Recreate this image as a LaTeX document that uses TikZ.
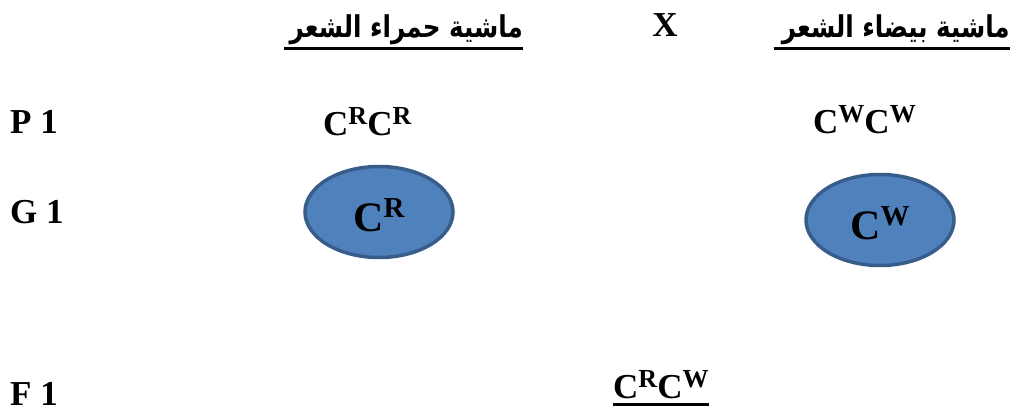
\documentclass[tikz,border=0pt]{standalone}
\usepackage{fontspec}
\setmainfont{Liberation Serif}
\newfontfamily\arabicfont[Script=Arabic]{DejaVu Sans}
\TeXXeTstate=1
\usetikzlibrary{shapes.geometric}
\definecolor{gameteblue}{RGB}{79,129,189}
\definecolor{gameteedge}{RGB}{56,93,138}
\newcommand{\allele}[1]{C\raisebox{11pt}{\fontsize{26}{26}\selectfont #1}}
\newcommand{\bigallele}[1]{C\raisebox{14pt}{\fontsize{29}{29}\selectfont #1}}
\newcommand{\arabline}[1]{\scalebox{0.82}[1]{\beginR #1\endR}}
\tikzset{
  big/.style={font=\fontsize{35}{40}\selectfont\bfseries, inner sep=0pt},
  rowname/.style={big, anchor=base west},
  gamete/.style={ellipse, draw=gameteedge, line width=3.5pt, fill=gameteblue,
                 minimum width=148pt, minimum height=91pt, text height=40pt,
                 inner sep=0pt, font=\fontsize{42}{46}\selectfont\bfseries},
  arabtitle/.style={font=\fontsize{30}{34}\selectfont\arabicfont\bfseries,
                    inner sep=0pt, anchor=base east},
  uline/.style={line width=3pt}
}

\begin{document}
\begin{tikzpicture}[x=1pt,y=-1pt]
    \useasboundingbox (0,0) rectangle (1012,415);

    % titles
    \node[arabtitle] (redtitle) at (523,37) {\arabline{ماشية حمراء الشعر}};
    \node[big] (cross) at (665,25) {X};
    \node[arabtitle] (whitetitle) at (1010,37) {\arabline{ماشية بيضاء الشعر}};

    \draw[uline] ([shift={(-5,11)}]redtitle.base west) -- ([shift={(0,11)}]redtitle.base east);
    \draw[uline] ([shift={(-8,11)}]whitetitle.base west) -- ([shift={(0,11)}]whitetitle.base east);

    % rows
    \node[rowname] (p1) at (10,133) {P 1};
    \node[rowname] (g1) at (10,223) {G 1};
    \node[rowname] (f1) at (10,405) {F 1};

    \node[big, anchor=base west] (redparent) at (323,135) {\allele{R}\allele{R}};
    \node[big, anchor=base west] (whiteparent) at (813,133) {\allele{W}\allele{W}};

    \node[gamete] (redgamete) at (379,212) {\bigallele{R}};
    \node[gamete] (whitegamete) at (880,220) {\bigallele{W}};

    \node[big, anchor=base west] (offspring) at (613,398) {\allele{R}\allele{W}};
    \draw[uline] ([shift={(0,6)}]offspring.base west) -- ([shift={(0,6)}]offspring.base east);
\end{tikzpicture}
\end{document}
